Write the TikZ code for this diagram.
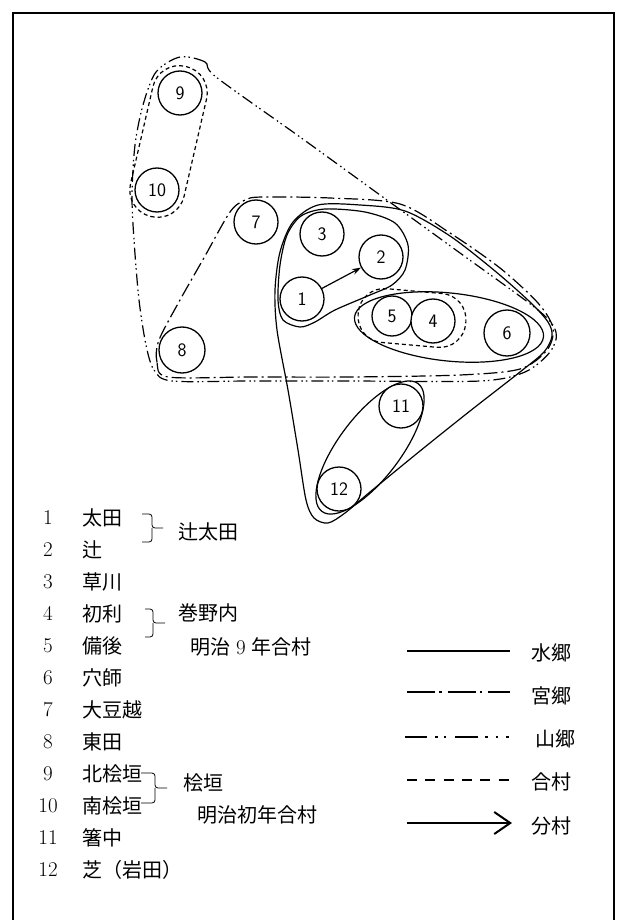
\documentclass[tikz,border=0pt]{standalone}
\usepackage{fontspec}
\newfontfamily\cjk{Noto Sans CJK JP}
\usetikzlibrary{arrows.meta}
\begin{document}
\begin{tikzpicture}[x=1pt,y=-1pt,
  vil/.style={circle,draw,fill=white,line width=1.3pt,minimum size=44pt,inner sep=0pt,
    font=\sffamily\fontsize{19}{19}\selectfont},
  mizu/.style={line width=1.2pt},
  miya/.style={line width=1.2pt,dash pattern=on 14pt off 4pt on 2pt off 4pt},
  yama/.style={line width=1.2pt,dash pattern=on 12pt off 4pt on 1.5pt off 3pt on 1.5pt off 4pt},
  gou/.style={line width=1.2pt,dash pattern=on 4pt off 3pt},
  num/.style={font=\fontsize{21}{24}\selectfont},
  jp/.style={font=\cjk\fontsize{20}{24}\selectfont,anchor=west,inner sep=0pt},
  bracestyle/.style={line width=0.8pt,rounded corners=3pt},
  legline/.style={line width=2pt}]
\useasboundingbox (0,0) rectangle (616,920);
% frame
\draw[line width=1.5pt] (13,920) -- (13,13) -- (614,13) -- (614,920);

% 山郷 (dash-dot-dot): big triangle 9-8-6
\draw[yama] plot[smooth cycle,tension=0.5] coordinates {
  (180,57) (205,62) (216,77) (300,137) (380,195) (460,253) (538,310) (556,332)
  (550,352) (525,372) (480,381) (350,381) (250,381) (172,381) (154,370) (146,345)
  (139,300) (134,240) (132,195) (135,145) (143,105) (156,72)};

% 宮郷 (dash-dot): triangle 7-8-6
\draw[miya] plot[smooth cycle,tension=0.5] coordinates {
  (168,377) (157,362) (159,340) (180,300) (205,256) (230,212) (245,200) (262,197)
  (330,198) (400,204) (450,233) (500,268) (538,303) (553,328) (547,350) (520,369)
  (460,375) (350,377) (250,377)};

% 水郷 big teardrop
\draw[mizu] plot[smooth cycle,tension=0.5] coordinates {
  (318,205) (360,205) (405,211) (450,236) (495,271) (530,302) (548,322) (552,336)
  (544,352) (520,372) (470,411) (420,451) (370,492) (345,513) (328,523) (314,518)
  (306,500) (298,450) (288,390) (277,330) (275,290) (280,252) (293,222)};

% loop around 1, 2, 3
\draw[mizu] plot[smooth cycle,tension=0.5] coordinates {
  (300,327) (283,320) (278,300) (280,265) (287,235) (301,216) (325,209) (365,212)
  (395,223) (408,245) (405,270) (392,285) (370,295) (335,310) (315,322)};

% ellipse around 5, 4, 6
\draw[mizu, rotate around={-6:(449,327)}] (449,327) ellipse [x radius=95pt, y radius=34pt];

% ellipse around 11, 12
\draw[mizu, rotate around={53:(370,447.5)}] (370,447.5) ellipse [x radius=80pt, y radius=31pt];

% 合村 around 4 and 5
\draw[gou, rounded corners=26pt, rotate around={-5:(412,318)}] (358,291) rectangle (466,345);

% 合村 around 9 and 10
\draw[gou, rounded corners=27pt, rotate around={77:(168.5,141.5)}] (91.5,114) rectangle (245.5,169);

% villages
\node[vil] (n9)  at (180,93)  {9};
\node[vil] (n10) at (157,190) {10};
\node[vil] (n7)  at (256,222) {7};
\node[vil] (n3)  at (322,234) {3};
\node[vil] (n2)  at (381,257) {2};
\node[vil] (n1)  at (302,299) {1};
\node[vil,minimum size=40pt] (n5) at (392,316) {5};
\node[vil] (n4)  at (433,321) {4};
\node[vil,minimum size=46pt] (n6) at (507,333) {6};
\node[vil,minimum size=46pt] (n8) at (182,350) {8};
\node[vil] (n11) at (401,406) {11};
\node[vil] (n12) at (339,489) {12};

% 分村 arrow 1 -> 2
\draw[line width=1.2pt,-{Stealth[length=9pt,width=6pt]}] (n1) -- (n2);

% list
\foreach \i/\t in {1/太田,2/辻,3/草川,4/初利,5/備後,6/穴師,7/大豆越,8/東田,9/北桧垣,10/南桧垣,11/箸中,12/芝（岩田）}{
  \node[num] (d\i) at (48,{518+31.95*(\i-1)}) {\i};
  \node[jp] (t\i) at (82,{518+31.95*(\i-1)}) {\t};
}

% braces
\draw[bracestyle] (142,514) -- (152,514) -- (152,528) -- (163,528);
\draw[bracestyle] (142,542) -- (152,542) -- (152,528);
\draw[bracestyle] (145,609) -- (153,609) -- (153,623) -- (165,623);
\draw[bracestyle] (145,637) -- (153,637) -- (153,623);
\draw[bracestyle] (141,773) -- (155,773) -- (155,788) -- (167,788);
\draw[bracestyle] (141,803) -- (155,803) -- (155,788);

\node[jp] (g1) at (178,532) {辻太田};
\node[jp] (g2) at (178,613) {巻野内};
\node[jp] (g2b) at (190,647) {明治\hspace{6pt}{\rmfamily\fontsize{21}{24}\selectfont 9}\hspace{6pt}年合村};
\node[jp] (g3) at (183,783) {桧垣};
\node[jp] (g3b) at (197,815) {明治初年合村};

% line legend
\draw[legline] (407,651) -- (510,651);
\draw[legline,dash pattern=on 28pt off 4pt on 2.5pt off 6pt] (407,692) -- (510,692);
\draw[legline,dash pattern=on 22pt off 8pt on 2.5pt off 6pt on 2.5pt off 9pt on 23pt off 7pt on 2.5pt off 8pt on 2.5pt off 8pt on 2.5pt off 20pt] (405,737) -- (510,737);
\draw[legline,dash pattern=on 10pt off 8.3pt] (407,780) -- (510,780);
\draw[legline,-{Straight Barb[length=16pt,width=22pt]}] (407,823) -- (512,823);

\node[jp] (k1) at (531,653) {水郷};
\node[jp] (k2) at (531,696) {宮郷};
\node[jp] (k3) at (535,739) {山郷};
\node[jp] (k4) at (531,782) {合村};
\node[jp] (k5) at (531,826) {分村};
\end{tikzpicture}
\end{document}
